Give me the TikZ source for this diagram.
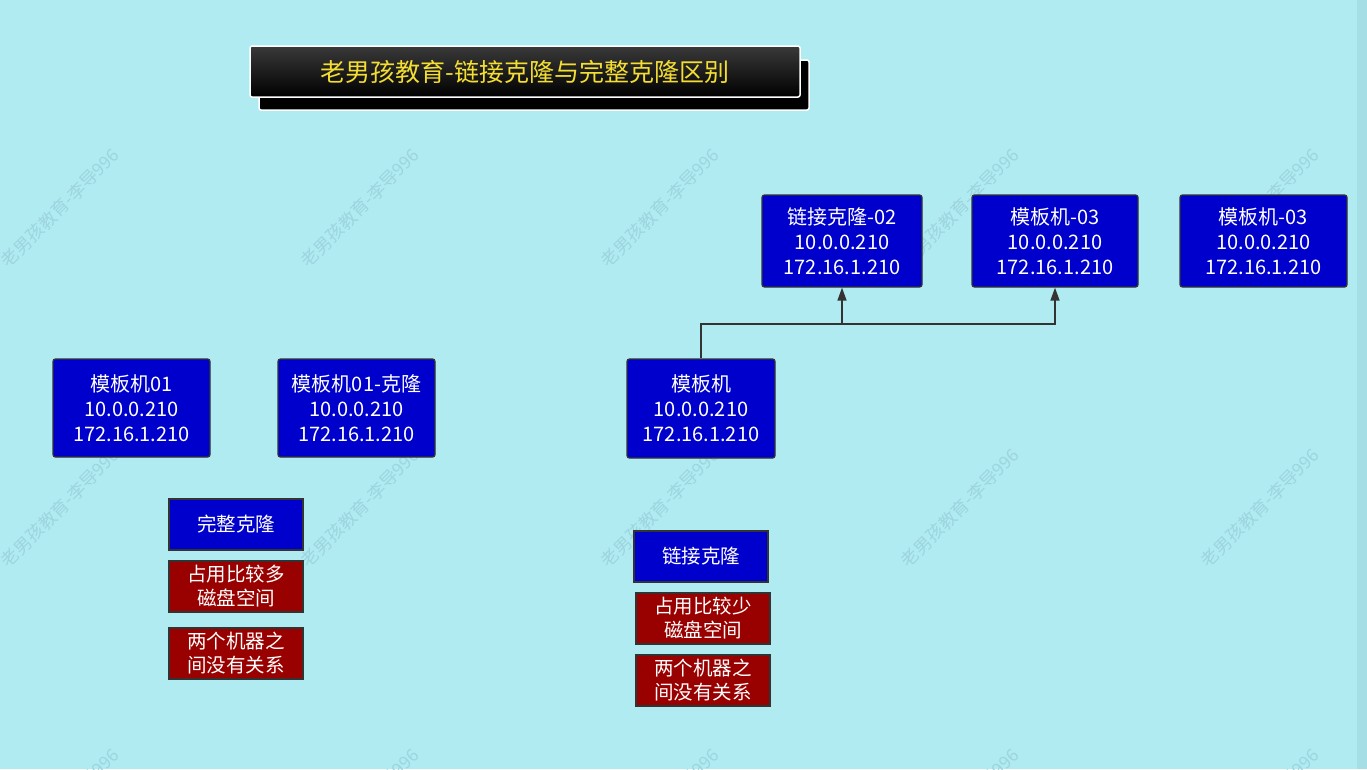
\documentclass[tikz,border=0pt]{standalone}
\usepackage{fontspec}
\setmainfont{Noto Sans CJK SC}
\usetikzlibrary{arrows.meta}
\definecolor{bgcol}{RGB}{176,235,242}
\definecolor{edgecol}{RGB}{166,222,230}
\definecolor{wmcol}{RGB}{158,212,222}
\definecolor{hostblue}{RGB}{0,0,204}
\definecolor{notered}{RGB}{153,0,0}
\definecolor{titleyellow}{RGB}{245,222,50}
\definecolor{linecol}{RGB}{51,51,51}
\begin{document}
\begin{tikzpicture}[x=1pt, y=-1pt, >={Triangle[width=9pt,length=13pt]},
  host/.style={draw=linecol, line width=1.3pt, fill=hostblue, text=white, rounded corners=2.5pt,
    inner sep=0pt, align=center, font=\fontsize{20}{25}\selectfont, minimum height=92pt},
  tagbox/.style={draw=linecol, line width=1.6pt, fill=hostblue, text=white, inner sep=0pt,
    align=center, font=\fontsize{19.5}{24}\selectfont, minimum width=134pt, minimum height=51pt},
  notebox/.style={tagbox, fill=notered},
  wire/.style={draw=linecol, line width=1.6pt}]
% background and watermark
\fill[bgcol] (0,0) rectangle (1367,769);
\fill[edgecol] (1357,0) rectangle (1367,769);
\useasboundingbox (0,0) rectangle (1367,769);
\foreach \wx in {60,360,660,960,1260}
  \foreach \wy in {208,508,808}
    \node[rotate=45, text=wmcol, font=\fontsize{17.5}{17.5}\selectfont] at (\wx,\wy) {老男孩教育-李导996};

% title
\node[draw=white, line width=1.5pt, fill=black, rounded corners=2pt, minimum width=550pt, minimum height=50pt] (shadow) at (534,85) {};
\node[draw=white, line width=1.5pt, top color=gray!45!black, bottom color=black, rounded corners=2pt,
  minimum width=550pt, minimum height=51pt, text=titleyellow, font=\fontsize{25}{25}\selectfont] (title) at (525,71.5) {老男孩教育-链接克隆与完整克隆区别};

% full clone
\node[host, minimum width=157pt, minimum height=98pt] (t01) at (131.5,408) {模板机01\\10.0.0.210\\172.16.1.210};
\node[host, minimum width=157pt, minimum height=98pt] (t01c) at (356.5,408) {模板机01-克隆\\10.0.0.210\\172.16.1.210};
\node[tagbox] (full) at (236,524.5) {完整克隆};
\node[notebox] (fullmore) at (236,586.5) {占用比较多\\磁盘空间};
\node[notebox] (fullfree) at (236,653.5) {两个机器之\\间没有关系};

% linked clone
\node[host, minimum width=148pt, minimum height=99pt] (tpl) at (701,408.5) {模板机\\10.0.0.210\\172.16.1.210};
\node[host, minimum width=160pt] (lc02) at (842,241) {链接克隆-02\\10.0.0.210\\172.16.1.210};
\node[host, minimum width=166pt] (m03a) at (1055,241) {模板机-03\\10.0.0.210\\172.16.1.210};
\node[host, minimum width=167pt] (m03b) at (1263.5,241) {模板机-03\\10.0.0.210\\172.16.1.210};
\node[tagbox] (link) at (701,556.5) {链接克隆};
\node[notebox] (linkless) at (703,618.5) {占用比较少\\磁盘空间};
\node[notebox] (linkfree) at (703,680.5) {两个机器之\\间没有关系};

\draw[wire, ->] (tpl.north) -- (tpl.north |- 0,324) -| (lc02.south);
\draw[wire, ->] (lc02.south |- 0,324) -| (m03a.south);
\end{tikzpicture}
\end{document}
